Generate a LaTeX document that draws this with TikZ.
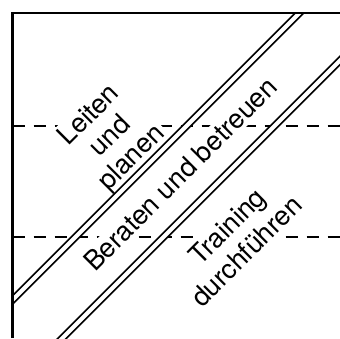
\documentclass[tikz,border=0pt]{standalone}
\usepackage{fontspec}
\setmainfont{TeX Gyre Heros}

\tikzset{
    frameline/.style={line width=2.5pt},
    bandline/.style={double, line width=1.8pt, double distance=3.9pt},
    levelline/.style={line width=1.2pt, dash pattern=on 12pt off 9pt},
    tasktext/.style={rotate=45, fill=white, inner sep=3pt, font=\fontsize{27}{30}\selectfont}
}

\begin{document}
\begin{tikzpicture}[x=1pt, y=1pt]
    \useasboundingbox (0,0) rectangle (340,338);
    \clip (0,0) rectangle (340,338);

    % levels
    \draw[levelline] (12.7,212) -- (340,212);
    \draw[levelline] (12.7,101) -- (340,101);

    % tasks
    \node[tasktext, align=center] (lead) at (111,201) {Leiten\\und\\planen};
    \node[tasktext, anchor=base] (advise) at (187,157) {Beraten und betreuen};
    \node[tasktext, anchor=base] (train) at (234,105) {Training};
    \node[tasktext, anchor=base] (execute) at (253,80) {durchführen};

    % diagonal band
    \begin{scope}
        \clip (12.7,0) rectangle (340,325);
        \draw[bandline] (0,25.5) -- (320,345.5);
        \draw[bandline] (50,-12.5) -- (360,297.5);
    \end{scope}

    % frame
    \draw[frameline] (12.7,0) -- (12.7,325) -- (340,325);
\end{tikzpicture}
\end{document}
